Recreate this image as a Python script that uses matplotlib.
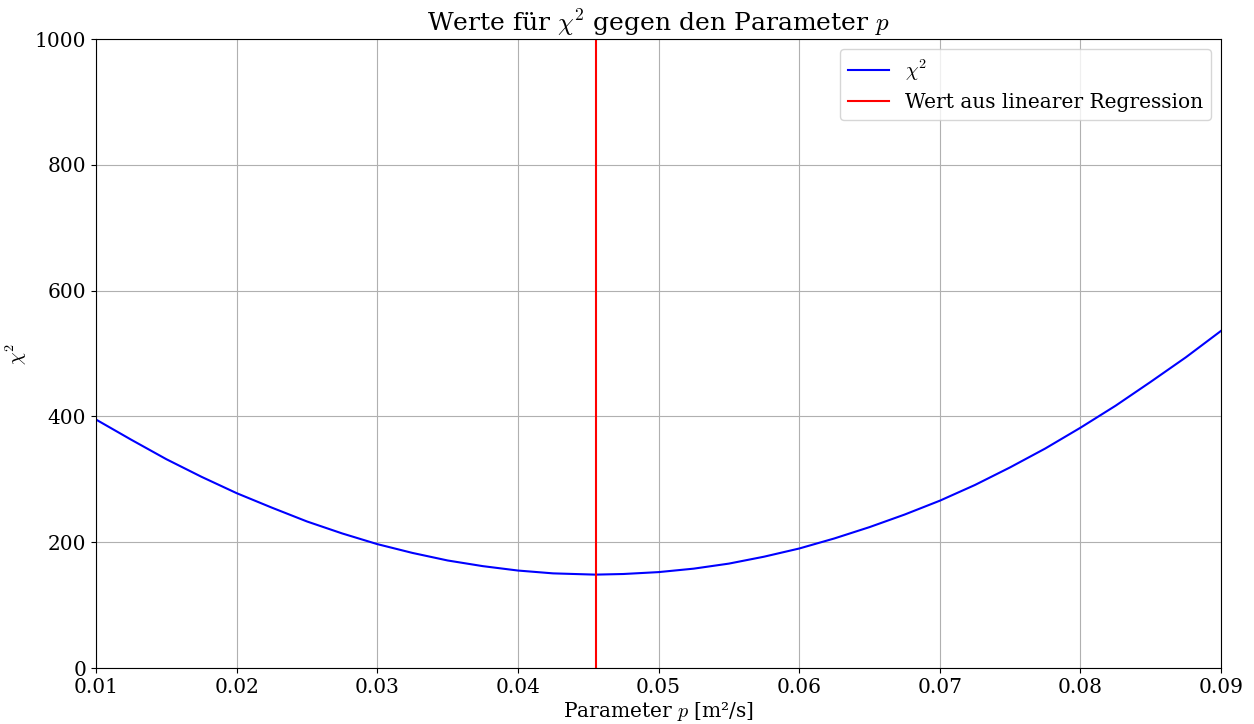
import matplotlib
matplotlib.use("Agg")
import matplotlib.pyplot as plt

plt.rcParams['font.family'] = 'DejaVu Serif'
plt.rcParams['mathtext.fontset'] = 'cm'
plt.rcParams['font.size'] = 14.5

# parameter p and chi^2
p = [0.0100, 0.0125, 0.0150, 0.0175, 0.0200, 0.0225, 0.0250, 0.0275,
     0.0300, 0.0325, 0.0350, 0.0375, 0.0400, 0.0425, 0.0455, 0.0475,
     0.0500, 0.0525, 0.0550, 0.0575, 0.0600, 0.0625, 0.0650, 0.0675,
     0.0700, 0.0725, 0.0750, 0.0775, 0.0800, 0.0825, 0.0850, 0.0875,
     0.0900]
chi2 = [395, 363, 332, 304, 278, 255, 233, 214,
        197, 183, 171, 162, 155, 150.5, 148.5, 149.5,
        152.5, 158, 166, 177, 190, 206, 224, 244,
        266, 291, 319, 349, 382, 417, 455, 494,
        536]
p_regression = 0.04555

fig = plt.figure(figsize=(12.54, 7.24), dpi=100)
ax = fig.add_axes([0.0766, 0.0773, 0.8971, 0.8688])

ax.plot(p, chi2, color='blue', label=r'$\chi^2$')
ax.axvline(p_regression, color='red', label='Wert aus linearer Regression')

ax.set_xlim(0.01, 0.09)
ax.set_ylim(0, 1000)
ax.set_title(r'Werte für $\chi^2$ gegen den Parameter $p$', fontsize=18)
ax.set_xlabel(r'Parameter $p$ [m²/s]', labelpad=2)
ax.set_ylabel(r'$\chi^2$')
ax.grid(True)
ax.legend(loc='upper right')

fig.savefig('out.png', dpi=100)
